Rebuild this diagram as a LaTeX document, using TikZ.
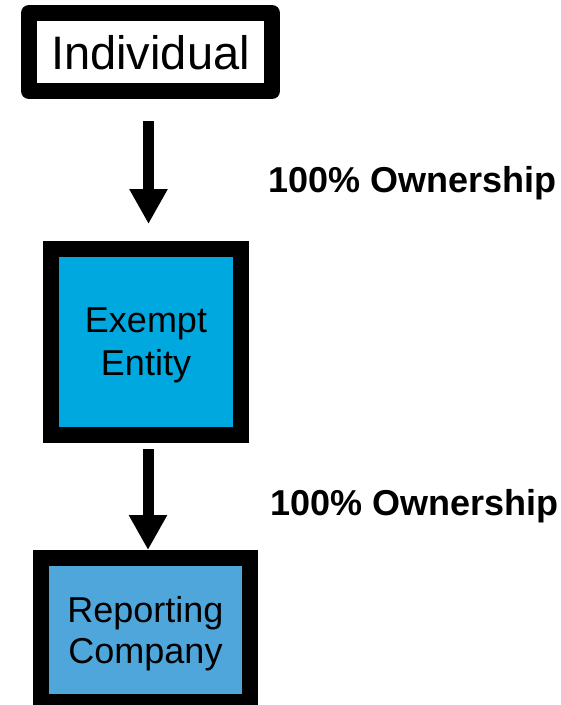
\documentclass[tikz,border=0pt]{standalone}
\usepackage{fontspec}
\setmainfont{Liberation Sans}
\usetikzlibrary{arrows.meta, positioning}
\definecolor{EntityBlue}{RGB}{0,168,224}
\definecolor{CompanyBlue}{RGB}{79,166,219}

\begin{document}
\begin{tikzpicture}[x=1pt, y=-1pt,
  box/.style={draw=black, line width=16pt, line join=miter,
              inner sep=0pt, align=center, text depth=0pt,
              font=\fontsize{36}{43}\selectfont},
  own/.style={-{Triangle[length=35pt, width=36pt]}, line width=11pt},
  pct/.style={anchor=base west, inner sep=0pt,
              font=\bfseries\fontsize{36}{43}\selectfont},
]
\useasboundingbox (0,0) rectangle (561,705);

\node[box, fill=white, line join=round, minimum width=243pt,
      minimum height=78pt, font=\fontsize{47}{56}\selectfont]
  (ind) at (150.5,52) {Individual};
\node[box, fill=EntityBlue, minimum width=190pt, minimum height=186pt]
  (ent) at (146,342) {Exempt\\Entity};
\node[box, fill=CompanyBlue, minimum width=209pt, minimum height=144pt,
      font=\fontsize{36}{41}\selectfont]
  (rep) at (145.5,630) {Reporting\\Company};

\draw[own, shorten <=22pt, shorten >=17pt]
  ([xshift=-2pt]ind.south) -- ([xshift=2.5pt]ent.north);
\draw[own, shorten <=6pt]
  ([xshift=2pt]ent.south) -- ([xshift=2.5pt]rep.north);

\node[pct] (own1) at (268,192) {100\% Ownership};
\node[pct] (own2) at (270,515) {100\% Ownership};
\end{tikzpicture}
\end{document}
